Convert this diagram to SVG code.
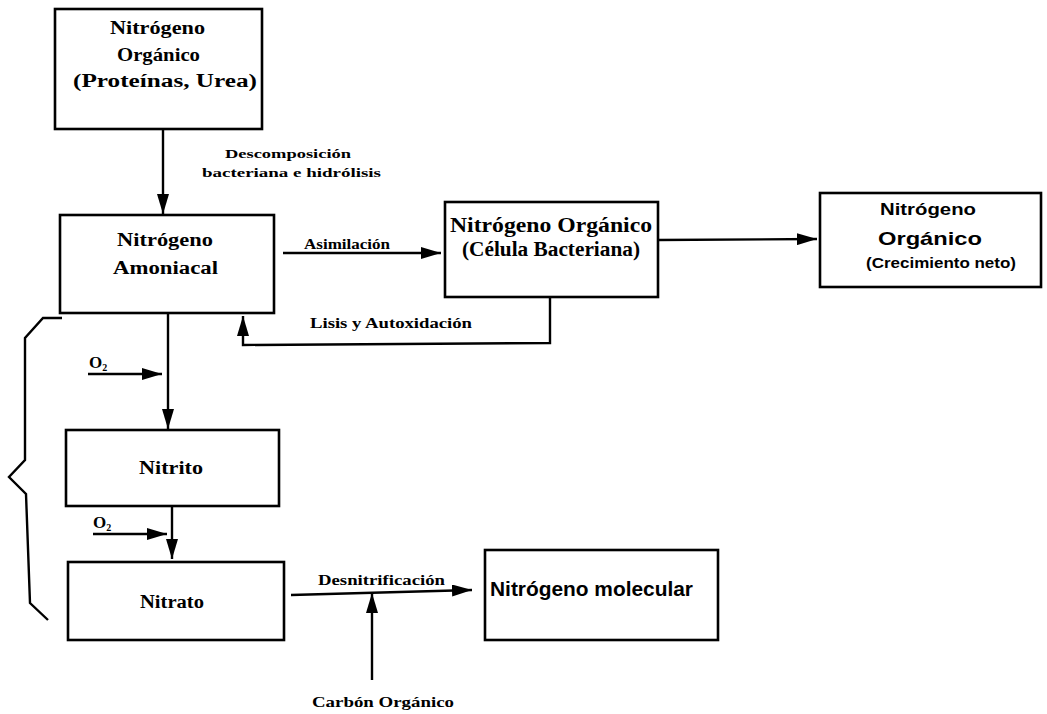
<svg xmlns="http://www.w3.org/2000/svg" width="1047" height="714" viewBox="0 0 1047 714">
<defs>
<style>
.box{fill:#fff;stroke:#000;stroke-width:2.6}
.ln{fill:none;stroke:#000;stroke-width:2.4}
.t{font-family:"Liberation Serif","Times New Roman",serif;font-weight:bold;fill:#000}
.s{font-family:"Liberation Sans",Arial,sans-serif;font-weight:bold;fill:#000}
</style>
<marker id="ah" viewBox="0 0 20 12" refX="20" refY="6" markerWidth="20" markerHeight="12" markerUnits="userSpaceOnUse" orient="auto">
<path d="M0,0 L20,6 L0,12 z" fill="#000"/>
</marker>
</defs>
<rect width="1047" height="714" fill="#fff"/>

<g id="connectors">
<line class="ln" x1="163" y1="129" x2="163" y2="214" marker-end="url(#ah)"/>
<line class="ln" x1="283" y1="253" x2="441" y2="253" marker-end="url(#ah)"/>
<line class="ln" x1="658" y1="240" x2="817" y2="239" marker-end="url(#ah)"/>
<polyline class="ln" points="550,297 550,343 243,345 243,316" marker-end="url(#ah)"/>
<line class="ln" x1="168" y1="313" x2="168" y2="429" marker-end="url(#ah)"/>
<line class="ln" x1="88" y1="374" x2="162" y2="374" marker-end="url(#ah)"/>
<line class="ln" x1="172" y1="506" x2="172" y2="559" marker-end="url(#ah)"/>
<line class="ln" x1="93" y1="534" x2="167" y2="534" marker-end="url(#ah)"/>
<line class="ln" x1="291" y1="595" x2="472" y2="590" marker-end="url(#ah)"/>
<line class="ln" x1="372" y1="680" x2="372" y2="593" marker-end="url(#ah)"/>
<path class="ln" d="M62,318 L43,318 L25,338 L25,460 L9,477 L26,494 L30,603 L48,620"/>
<text class="t" x="225" y="158" font-size="13" textLength="126" lengthAdjust="spacingAndGlyphs">Descomposición</text>
<text class="t" x="202" y="177" font-size="13" textLength="179" lengthAdjust="spacingAndGlyphs">bacteriana  e hidrólisis</text>
<text class="t" x="304" y="249" font-size="14.5" textLength="86" lengthAdjust="spacingAndGlyphs">Asimilación</text>
<text class="t" x="310" y="328" font-size="14.5" textLength="162" lengthAdjust="spacingAndGlyphs">Lisis y Autoxidación</text>
<text class="t" x="89" y="368" font-size="17">O<tspan font-size="10" dy="3">2</tspan></text>
<text class="t" x="93" y="528" font-size="17">O<tspan font-size="10" dy="3">2</tspan></text>
<text class="t" x="318" y="585" font-size="14.5" textLength="127" lengthAdjust="spacingAndGlyphs">Desnitrificación</text>
<text class="t" x="312" y="707" font-size="15" textLength="142" lengthAdjust="spacingAndGlyphs">Carbón Orgánico</text>
</g>

<g id="n-organico">
<rect class="box" x="55" y="9" width="207" height="120"/>
<text class="t" x="110" y="34" font-size="18.5" textLength="95" lengthAdjust="spacingAndGlyphs">Nitrógeno</text>
<text class="t" x="117" y="61" font-size="18.5" textLength="83" lengthAdjust="spacingAndGlyphs">Orgánico</text>
<text class="t" x="73" y="87" font-size="18.5" textLength="184" lengthAdjust="spacingAndGlyphs">(Proteínas, Urea)</text>
</g>

<g id="n-amoniacal">
<rect class="box" x="60" y="215" width="214" height="98"/>
<text class="t" x="117" y="246" font-size="18.5" textLength="96" lengthAdjust="spacingAndGlyphs">Nitrógeno</text>
<text class="t" x="113" y="274" font-size="18.5" textLength="105" lengthAdjust="spacingAndGlyphs">Amoniacal</text>
</g>

<g id="n-celula">
<rect class="box" x="445" y="202" width="213" height="95"/>
<text class="t" x="450" y="232" font-size="20" textLength="202" lengthAdjust="spacingAndGlyphs">Nitrógeno Orgánico</text>
<text class="t" x="462" y="256" font-size="20" textLength="178" lengthAdjust="spacingAndGlyphs">(Célula Bacteriana)</text>
</g>

<g id="n-crecimiento">
<rect class="box" x="820" y="193" width="221" height="94"/>
<text class="s" x="880" y="215" font-size="17" textLength="96" lengthAdjust="spacingAndGlyphs">Nitrógeno</text>
<text class="s" x="878" y="245" font-size="19" textLength="104" lengthAdjust="spacingAndGlyphs">Orgánico</text>
<text class="s" x="866" y="268" font-size="15" font-weight="normal" textLength="150" lengthAdjust="spacingAndGlyphs">(Crecimiento neto)</text>
</g>

<g id="n-nitrito">
<rect class="box" x="66" y="430" width="213" height="76"/>
<text class="t" x="139" y="474" font-size="18" textLength="64" lengthAdjust="spacingAndGlyphs">Nitrito</text>
</g>

<g id="n-nitrato">
<rect class="box" x="68" y="562" width="216" height="78"/>
<text class="t" x="140" y="608" font-size="18" textLength="64" lengthAdjust="spacingAndGlyphs">Nitrato</text>
</g>

<g id="n-molecular">
<rect class="box" x="485" y="550" width="233" height="90"/>
<text class="s" x="490" y="596" font-size="20" textLength="203" lengthAdjust="spacingAndGlyphs">Nitrógeno molecular</text>
</g>
</svg>
